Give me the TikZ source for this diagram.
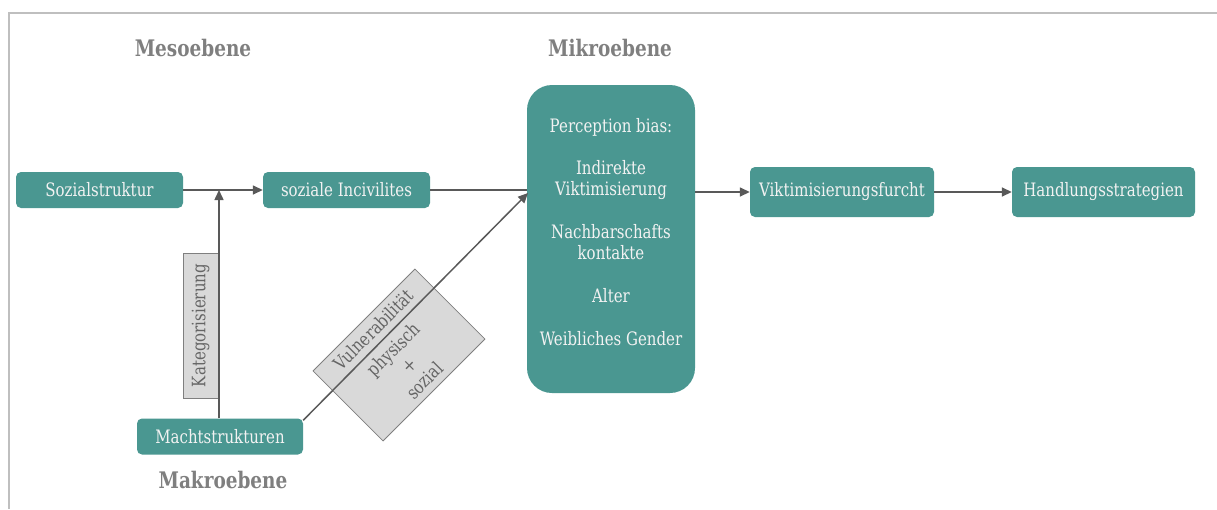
\documentclass[tikz,border=0pt]{standalone}
\usepackage{fontspec}
\setmainfont{DejaVu Serif}[FakeStretch=0.81]
\usetikzlibrary{arrows.meta,calc}
\definecolor{teal1}{HTML}{4A9791}
\definecolor{boxtext}{HTML}{F2F2F2}
\definecolor{linegray}{HTML}{595959}
\definecolor{headgray}{HTML}{7F7F7F}
\definecolor{framegray}{HTML}{BFBFBF}
\definecolor{notefill}{HTML}{D9D9D9}
\begin{document}
\begin{tikzpicture}[x=1pt,y=-1pt,
  tealbox/.style={fill=teal1, text=boxtext, rounded corners=5pt, inner sep=0pt,
    font=\fontsize{18.5}{20}\selectfont, align=center},
  notebox/.style={fill=notefill, draw=headgray, line width=0.8pt, inner sep=0pt,
    text=headgray!80!black, font=\fontsize{18.5}{22}\selectfont, align=center},
  level/.style={text=headgray, font=\bfseries\fontsize{22.8}{26}\selectfont},
  link/.style={draw=linegray, line width=1.5pt, -{Triangle[length=10pt,width=9pt]}},
  plainlink/.style={draw=linegray, line width=1.5pt}]
\useasboundingbox (0,0) rectangle (1217,509);
% frame
\draw[framegray, line width=2pt] (1217,13) -- (9,13) -- (9,509);

% level headings
\node[level] (meso) at (193,48) {Mesoebene};
\node[level] (mikroh) at (610,48) {Mikroebene};
\node[level] (makro) at (223,480) {Makroebene};

% annotation boxes
\node[notebox, rotate=90, minimum width=145pt, minimum height=35pt] (kat) at (200.5,325.5) {Kategorisierung};
\node[notebox, rotate=45, minimum width=144pt, minimum height=99pt] (vul) at (399,355)
  {Vulnerabilität\\[6pt]physisch\\+\\sozial};

% main boxes
\node[tealbox, minimum width=167pt, minimum height=36pt] (soz) at (99.5,190) {Sozialstruktur};
\node[tealbox, minimum width=167pt, minimum height=36pt] (inc) at (346.5,190) {soziale Incivilites};
\node[tealbox, minimum width=166pt, minimum height=36pt] (mach) at (220,436.5) {Machtstrukturen};
\node[tealbox, rounded corners=25pt, minimum width=168pt, minimum height=308pt,
  font=\fontsize{18.5}{21.3}\selectfont, text depth=15pt] (mikro) at (611,239)
  {Perception bias:\\[21.3pt]Indirekte\\Viktimisierung\\[21.3pt]Nachbarschafts\\kontakte\\[21.3pt]Alter\\[21.3pt]Weibliches Gender};
\node[tealbox, minimum width=184pt, minimum height=50pt] (vik) at (842,192) {Viktimisierungsfurcht};
\node[tealbox, minimum width=183pt, minimum height=50pt] (hand) at (1103.5,192) {Handlungsstrategien};

% junction points
\coordinate (j) at (219,190);
\coordinate (min) at (527,190);
\coordinate (vin) at (528,193);

% connectors
\draw[link] (soz.east) -- (inc.west);
\draw[link] (j |- mach.north) -- (j);
\draw[plainlink] (inc.east) -- (min);
\draw[link] ([yshift=-2pt]mach.north east) -- (vin);
\draw[link] (vik.west -| mikro.east) -- (vik.west);
\draw[link] (vik.east) -- (hand.west);
\end{tikzpicture}
\end{document}
